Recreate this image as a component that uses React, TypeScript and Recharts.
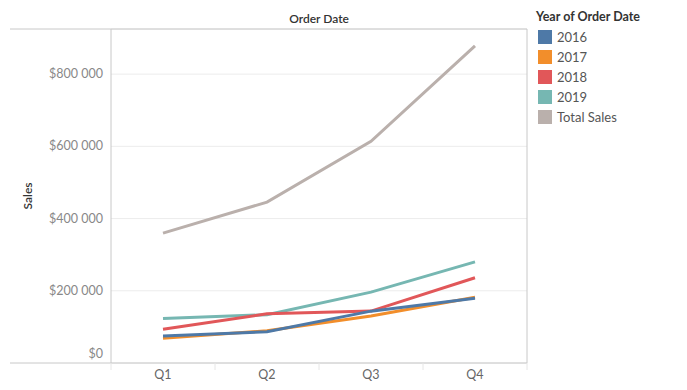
import React from 'react';
import { LineChart, Line, XAxis, YAxis, CartesianGrid, usePlotArea } from 'recharts';

const quarters = ['Q1', 'Q2', 'Q3', 'Q4'];
const sales2016 = [74448, 86538, 143633, 179628];
const sales2017 = [68851, 89124, 130259, 182297];
const sales2018 = [93237, 136082, 143787, 236099];
const sales2019 = [123145, 133764, 196252, 280054];
const totalSales = [359681, 445508, 613931, 878112];
const yTicks = [0, 200000, 400000, 600000, 800000];

const seriesNames = ['2016', '2017', '2018', '2019', 'Total Sales'];
const seriesColors = ['#4e79a7', '#f28e2b', '#e15759', '#76b7b2', '#bab0ac'];
const seriesData = [sales2016, sales2017, sales2018, sales2019, totalSales];

const data = quarters.map((q, i) => {
  const row: Record<string, string | number> = { q };
  seriesNames.forEach((n, k) => {
    row[n] = seriesData[k][i];
  });
  return row;
});

const FONT = 'Lato, "Open Sans", sans-serif';
const fmt = (v: number) => '$' + v.toLocaleString('en-US').replace(/,/g, ' ');

const YTick = (props: any) => {
  const { x, y, payload } = props;
  const shift = payload.value === 0 ? -9 : 0;
  return (
    <text x={x} y={y + shift} dy={4} textAnchor="end" fill="#888" fontSize={12.5} fontFamily={FONT}>
      {fmt(payload.value)}
    </text>
  );
};

const XTick = (props: any) => {
  const { x, y, payload, index } = props;
  const half = 52;
  return (
    <g>
      <line x1={x - half} x2={x - half} y1={y - 8} y2={y - 1} stroke="#e6e6e6" />
      {index === quarters.length - 1 && (
        <line x1={x + half} x2={x + half} y1={y - 8} y2={y - 1} stroke="#e6e6e6" />
      )}
      <text x={x} y={y} dy={8} textAnchor="middle" fill="#666" fontSize={12.5} fontFamily={FONT}>
        {payload.value}
      </text>
    </g>
  );
};

const Frame = () => {
  const area = usePlotArea();
  if (!area) return null;
  const { x, y, width, height } = area;
  return (
    <g>
      <line x1={10} x2={x + width} y1={y} y2={y} stroke="#c8c8c8" />
      <line x1={10} x2={x + width} y1={y + height} y2={y + height} stroke="#c8c8c8" />
      <line x1={x} x2={x} y1={y} y2={y + height} stroke="#c8c8c8" />
      <line x1={x + width} x2={x + width} y1={y} y2={y + height} stroke="#c8c8c8" />
      <text x={x + width / 2} y={y - 6} textAnchor="middle" fill="#333" fontSize={12} fontWeight={600} fontFamily={FONT}>
        Order Date
      </text>
      <text
        x={32}
        y={y + height / 2}
        transform={`rotate(-90 32 ${y + height / 2})`}
        textAnchor="middle"
        fill="#333"
        fontSize={12}
        fontWeight={600}
        fontFamily={FONT}
      >
        Sales
      </text>
    </g>
  );
};

const LegendBox = () => (
  <div style={{ position: 'absolute', left: 536, top: 7, width: 150, fontFamily: FONT }}>
    <div style={{ fontSize: 12.5, fontWeight: 700, color: '#333', height: 20, lineHeight: '20px' }}>
      Year of Order Date
    </div>
    {seriesNames.map((n, i) => (
      <div key={n} style={{ display: 'flex', alignItems: 'center', height: 20 }}>
        <div style={{ width: 14, height: 14, background: seriesColors[i], marginLeft: 2, marginRight: 5 }} />
        <span style={{ fontSize: 13, color: '#555' }}>{n}</span>
      </div>
    ))}
  </div>
);

const drawOrder = [4, 3, 2, 1, 0];

export default function App() {
  return (
    <div style={{ position: 'absolute', left: 0, top: 0, width: 687, height: 390, background: '#fff' }}>
      <LineChart width={687} height={390} data={data} margin={{ top: 29, right: 160, bottom: 0, left: 11 }}>
        <CartesianGrid horizontal vertical={false} stroke="#ececec" />
        <XAxis
          dataKey="q"
          padding={{ left: 52, right: 52 }}
          axisLine={false}
          tickLine={false}
          tick={<XTick />}
          height={27}
          interval={0}
        />
        <YAxis
          domain={[0, 925000]}
          ticks={yTicks}
          width={100}
          axisLine={false}
          tickLine={false}
          tick={<YTick />}
          allowDataOverflow
        />
        <Frame />
        {drawOrder.map((i) => (
          <Line
            key={seriesNames[i]}
            dataKey={seriesNames[i]}
            stroke={seriesColors[i]}
            strokeWidth={3}
            dot={false}
            activeDot={false}
            isAnimationActive={false}
            type="linear"
          />
        ))}
      </LineChart>
      <LegendBox />
    </div>
  );
}
